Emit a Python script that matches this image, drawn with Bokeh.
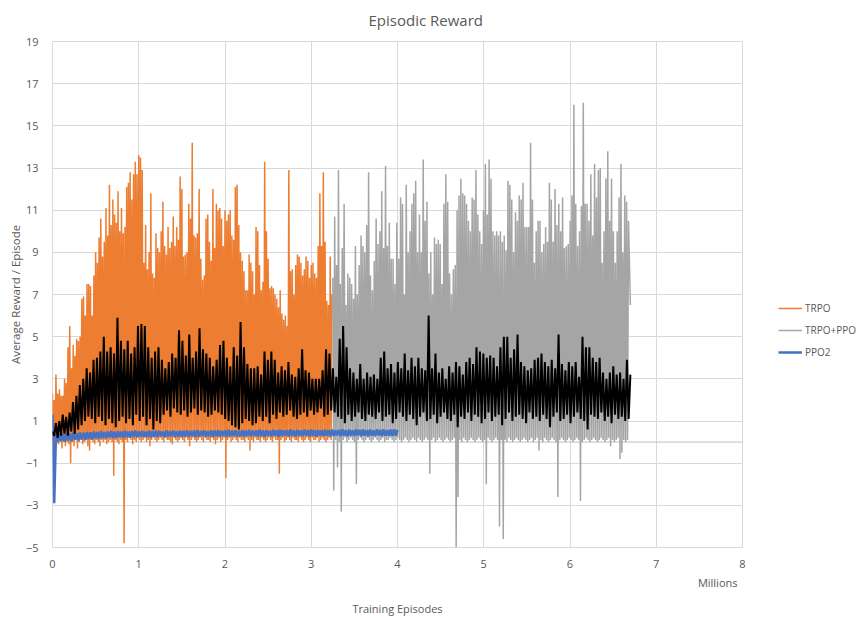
from bokeh.plotting import figure
from bokeh.models import FixedTicker, Legend, LegendItem, Span, Range1d, Title, Spacer
from bokeh.layouts import row
from bokeh.embed import file_html
from bokeh.resources import INLINE

# ---------------- data (millions of training episodes / average reward) ----------------
x_ticks = [0, 1, 2, 3, 4, 5, 6, 7, 8]
y_ticks = [-5, -3, -1, 1, 3, 5, 7, 9, 11, 13, 15, 17, 19]
x_tick_labels = ["0", "1", "2", "3", "4", "5", "6", "7", "8"]

trpo_start, trpo_end = 0.0, 3.24
trpo_peaks = [2.3, 2.0, 3.2, 2.3, 2.5, 2.2, 2.2, 3.0, 2.8, 4.5,
              5.5, 3.5, 4.6, 4.1, 4.9, 4.8, 5.0, 6.8, 6.9, 6.0,
              7.5, 7.5, 7.4, 6.0, 7.9, 9.0, 8.5, 9.7, 10.6, 8.8,
              9.5, 11.1, 9.8, 12.2, 10.3, 11.5, 10.8, 10.4, 11.9, 10.0,
              11.1, 9.9, 10.2, 12.1, 12.3, 12.8, 11.5, 12.7, 13.3, 12.7,
              13.6, 13.5, 12.9, 8.5, 10.3, 8.2, 9.0, 11.8, 8.0, 7.8,
              9.9, 9.2, 9.0, 10.0, 11.4, 9.3, 8.9, 10.2, 9.2, 9.5,
              10.7, 9.3, 10.2, 9.6, 12.6, 12.0, 8.8, 8.9, 9.0, 11.3,
              10.6, 14.2, 9.8, 9.7, 9.9, 12.0, 8.7, 7.7, 7.9, 10.6,
              10.8, 9.5, 8.6, 12.0, 9.2, 11.3, 11.0, 11.1, 10.6, 9.3,
              11.0, 10.5, 10.8, 11.0, 9.8, 9.6, 12.1, 12.2, 10.3, 9.0,
              8.6, 8.1, 7.2, 7.2, 8.9, 8.5, 8.1, 7.0, 10.2, 10.0,
              8.4, 7.2, 7.6, 13.3, 10.0, 8.7, 7.3, 7.4, 7.3, 7.0,
              6.8, 6.4, 7.2, 6.1, 5.8, 6.0, 5.5, 12.9, 8.1, 8.2,
              7.0, 8.4, 8.9, 8.8, 8.5, 7.9, 8.2, 8.8, 8.6, 7.8,
              8.4, 8.5, 8.0, 7.8, 9.3, 11.8, 9.3, 12.8, 9.5, 6.7,
              6.5, 8.8, 7.0]
trpo_troughs = [0.0, -0.2, 0.1, -0.1, 0.0, -0.3, 0.1, -0.2, 0.0, -0.1,
                -1.0,
                0.0, -0.2, 0.1, -0.3, 0.0, 0.1, -0.1, 0.0, 0.1, -0.2,
                -0.4,
                0.1, 0.0, -0.1, 0.1, 0.0, -0.2, 0.1, 0.0, 0.1, -0.1, 0.0, 0.1, 0.0,
                -1.6,
                0.1, 0.0, -0.1, 0.1, 0.0,
                -4.8,
                0.1, 0.0, 0.2, 0.1, -0.1, 0.1, 0.0, 0.2, 0.1, 0.0,
                0.1, 0.2, 0.0, 0.1, -0.2, 0.1, 0.2, 0.1, 0.0, 0.1,
                0.2, 0.1, 0.0, 0.2, 0.1, 0.1, 0.0, -0.1, 0.2, 0.1,
                0.0, 0.1, 0.2, 0.1, 0.0, 0.2, 0.1, -0.2, 0.1, 0.2,
                0.1, 0.0, 0.1, 0.2, 0.1, 0.0, 0.2, 0.1, 0.1, 0.0,
                0.2, 0.1, -0.1, 0.1, 0.2, 0.0, 0.1, 0.2,
                -1.7,
                0.1, 0.2, 0.0, 0.1, 0.2, 0.1, 0.0, 0.2, 0.1, 0.1, 0.0, 0.2, 0.1,
                -0.4,
                0.1, 0.0, 0.2, 0.1, 0.1, 0.0, 0.2, 0.1, 0.0, 0.1, 0.2, 0.1, 0.0, 0.2, 0.1, 0.1,
                -1.5,
                0.1, 0.2, 0.0, 0.1, 0.2, 0.1, 0.0, 0.2, 0.1, 0.1,
                0.0, 0.2, 0.1, 0.0, 0.1, 0.2, 0.1, 0.0, 0.2, 0.1,
                0.1, 0.2, 0.0, 0.1, 0.2, 0.1, 0.0, 0.1, 0.2, 0.1]

hybrid_start, hybrid_end = 3.25, 6.70
hybrid_peaks = [7.8, 10.7, 8.4, 12.9, 7.5, 9.2, 11.3, 6.5, 8.0, 7.8,
                7.5, 6.8, 9.3, 7.0, 8.4, 9.8, 9.3, 9.0, 10.3, 12.8,
                7.9, 7.2, 8.6, 10.6, 9.4, 10.0, 11.9, 9.2, 13.1, 9.3,
                10.4, 8.7, 8.7, 7.5, 10.4, 8.7, 11.6, 11.3, 7.0, 12.2,
                9.0, 10.0, 11.3, 11.8, 12.4, 9.0, 10.8, 9.0, 13.4, 10.5,
                11.4, 8.0, 9.0, 7.0, 9.7, 9.4, 9.6, 9.4, 7.5, 11.3,
                12.7, 11.4, 8.0, 7.0, 8.2, 8.4, 11.0, 11.7, 12.5, 11.8,
                11.7, 11.3, 10.5, 10.0, 11.6, 11.5, 12.9, 10.8, 10.0, 9.4,
                11.0, 13.2, 10.8, 13.4, 12.5, 10.0, 9.8, 10.0, 9.8, 10.0,
                9.5, 9.8, 9.1, 12.4, 12.2, 11.5, 9.0, 10.9, 10.5, 11.7,
                11.5, 12.3, 10.2, 10.2, 10.2, 14.2, 11.5, 8.5, 10.0, 10.5,
                10.5, 9.0, 9.4, 10.2, 9.5, 12.3, 11.5, 9.5, 12.0, 10.3,
                11.3, 10.0, 11.6, 9.2, 9.3, 9.4, 10.5, 11.7, 16.0, 11.3,
                9.3, 10.0, 11.2, 16.1, 11.3, 11.3, 10.5, 12.7, 9.8, 13.2,
                11.6, 12.9, 13.0, 8.5, 10.0, 12.5, 13.8, 10.5, 12.5, 10.0,
                8.5, 10.0, 11.6, 13.2, 9.0, 11.7, 11.4, 10.5, 6.5]
hybrid_troughs = [-2.3, 0.1, -1.2, 0.0, -3.3, 0.1, 0.2, 0.0, 0.1, 0.2,
                  0.1, 0.0, -2.0, 0.1, 0.2, 0.1, 0.0, 0.1, 0.2, 0.1,
                  0.0, 0.1, 0.2, 0.1, 0.0, 0.1, 0.2, 0.0, 0.1, 0.1,
                  0.2, 0.1, 0.0, 0.1, 0.2, 0.1, 0.0, 0.1, 0.2, 0.1,
                  0.0, 0.1, 0.2, 0.1, 0.0, 0.2, 0.1, 0.0, 0.1, 0.2,
                  0.1, -1.5, 0.1, 0.2, 0.0, 0.1, 0.2, 0.1, 0.0, 0.1,
                  0.2, 0.1, 0.0, 0.1, 0.2, -5.0, -2.6, 0.1, 0.0, 0.2,
                  0.1, 0.0, 0.1, 0.2, 0.1, 0.0, 0.1, 0.2, 0.1, 0.0,
                  0.1, -2.0, 0.2, 0.1, 0.0, 0.1, 0.2, 0.1, -4.0, 0.1,
                  -4.6, 0.1, 0.0, 0.2, 0.1, 0.0, 0.1, 0.2, 0.1, 0.0,
                  0.1, 0.2, 0.1, 0.0, 0.1, 0.2, 0.0, 0.1, 0.2, -0.4,
                  0.1, 0.0, 0.2, 0.1, 0.0, 0.1, 0.2, 0.1, 0.0, -2.6,
                  0.1, 0.2, 0.1, 0.0, 0.1, 0.2, 0.1, 0.0, 0.1, 0.2,
                  0.1, -2.8, 0.0, 0.1, 0.2, 0.1, 0.0, 0.1, 0.2, 0.1,
                  0.0, 0.1, 0.2, 0.1, 0.0, 0.1, 0.2, -0.2, 0.1, 0.0,
                  0.1, 0.2, -0.8, -0.5, 0.1, 0.0, 0.1]

ppo2_start, ppo2_end = 0.0, 4.0
ppo2_peaks = [1.3,
              0.35, 0.40, 0.38, 0.42, 0.40, 0.45, 0.42, 0.46, 0.44, 0.48,
              0.46, 0.50, 0.47, 0.52, 0.48, 0.50, 0.53, 0.49, 0.52, 0.50,
              0.54, 0.50, 0.52, 0.55, 0.51, 0.53, 0.50, 0.54, 0.52, 0.55,
              0.53, 0.50, 0.56, 0.52, 0.54, 0.51, 0.55, 0.53, 0.56, 0.52,
              0.55, 0.57, 0.53, 0.55, 0.52, 0.56, 0.54, 0.57, 0.53, 0.55,
              0.58, 0.54, 0.56, 0.53, 0.57, 0.55, 0.58, 0.54, 0.56, 0.59,
              0.55, 0.57, 0.54, 0.58, 0.56, 0.59, 0.55, 0.57, 0.60, 0.56,
              0.58, 0.55, 0.59, 0.57, 0.60, 0.56, 0.58, 0.55, 0.59, 0.57,
              0.60, 0.56, 0.58, 0.61, 0.57, 0.59, 0.56, 0.60, 0.58, 0.61,
              0.57, 0.59, 0.56, 0.60, 0.58, 0.61, 0.57, 0.59, 0.60, 0.58]
ppo2_troughs = [-2.9,
                0.00, 0.05, 0.02, 0.08, 0.05, 0.10, 0.08, 0.12, 0.10,
                0.15, 0.12, 0.18, 0.15, 0.20, 0.17, 0.22, 0.18, 0.20, 0.23,
                0.20, 0.24, 0.21, 0.25, 0.22, 0.26, 0.23, 0.25, 0.22, 0.26,
                0.24, 0.27, 0.23, 0.25, 0.28, 0.24, 0.26, 0.23, 0.27, 0.25,
                0.28, 0.24, 0.26, 0.29, 0.25, 0.27, 0.24, 0.28, 0.26, 0.29,
                0.25, 0.27, 0.30, 0.26, 0.28, 0.25, 0.29, 0.27, 0.30, 0.26,
                0.28, 0.25, 0.29, 0.27, 0.30, 0.26, 0.28, 0.31, 0.27, 0.29,
                0.26, 0.30, 0.28, 0.31, 0.27, 0.29, 0.26, 0.30, 0.28, 0.31,
                0.27, 0.29, 0.32, 0.28, 0.30, 0.27, 0.31, 0.29, 0.32, 0.28,
                0.30, 0.27, 0.31, 0.29, 0.32, 0.28, 0.30, 0.31, 0.29, 0.30]

avg_start, avg_end = 0.0, 6.70
avg_peaks = [0.5, 0.9, 1.0, 1.3, 1.2, 1.4, 1.9, 2.2, 2.7, 3.0,
             3.5, 3.3, 3.9, 4.0, 4.3, 5.0, 4.3, 4.5, 4.2, 5.9,
             4.8, 4.4, 4.8, 4.2, 4.5, 5.5, 5.6, 5.5, 4.5, 4.0,
             4.3, 4.5, 3.9, 3.5, 3.8, 4.2, 4.0, 5.3, 4.8, 4.1,
             5.1, 4.0, 4.3, 5.4, 4.4, 4.2, 4.0, 3.6, 3.9, 4.6,
             4.8, 4.0, 3.6, 4.5, 4.1, 5.7, 4.5, 3.7, 3.5, 3.5,
             3.6, 3.2, 4.3, 3.9, 4.3, 3.9, 3.3, 3.6, 3.4, 3.8,
             3.2, 3.1, 3.5, 4.4, 3.4, 3.3, 3.0, 3.0, 3.0, 3.4,
             4.4, 4.2, 3.5, 3.1,
             4.9, 5.5, 4.5, 3.5, 3.3, 3.0, 3.7, 3.0, 3.3, 3.1,
             3.2, 3.0, 4.0, 4.3, 3.5, 3.7, 3.3, 3.8, 3.5, 4.2,
             3.4, 4.0, 3.6, 4.0, 3.5, 3.4, 6.0, 3.5, 4.2, 3.3,
             3.5, 3.0, 3.6, 3.3, 3.8, 3.6, 3.2, 3.8, 4.0, 3.7,
             4.5, 4.3, 4.2, 4.0, 4.1, 4.0, 3.6, 4.5, 5.0, 5.0,
             4.0, 4.4, 5.1, 3.8, 3.6, 3.4, 3.5, 3.9, 4.0, 4.2,
             3.8, 3.6, 3.9, 3.5, 5.1, 3.7, 3.4, 3.8, 3.6, 3.8,
             3.1, 5.0, 4.5, 4.5, 4.0, 3.8, 4.0, 3.3, 3.0, 3.3,
             3.6, 3.2, 3.3, 3.0, 3.9, 3.2]
avg_troughs = [0.3, 0.2, 0.3, 0.4, 0.3, 0.5, 0.4, 0.6, 0.8,
               1.0, 1.2, 1.1, 0.9, 1.2, 1.0, 0.8, 1.1, 0.9, 0.7, 1.0, 1.2,
               0.9, 1.1, 0.8, 1.3, 1.0, 1.2, 0.8, 1.1, 0.6, 1.0,
               0.9, 1.3, 1.5, 1.2, 1.6, 1.4, 1.3, 1.5, 1.2, 1.4,
               1.6, 1.3, 1.5, 1.4, 1.2, 1.3, 1.5, 1.4, 1.3, 1.1,
               1.0, 0.8, 0.7, 0.6, 0.9, 1.1, 1.0, 0.8, 0.9, 1.2,
               1.0, 1.2, 0.9, 1.3, 1.1, 1.4, 1.2, 1.3, 1.5, 1.2,
               1.1, 1.3, 1.4, 1.2, 1.5, 1.3, 1.4, 1.6, 1.2, 1.3, 1.5, 1.4, 1.2,
               1.1, 0.9, 1.3, 1.0, 1.2, 1.4, 1.1, 1.0, 1.3, 1.2,
               1.1, 1.4, 1.0, 1.2, 1.3, 0.9, 1.1, 1.4, 1.2, 1.0,
               1.3, 1.1, 0.8, 1.2, 1.4, 1.0, 1.1, 1.3, 0.9, 1.2,
               1.4, 1.1, 1.0, 1.3, 0.7, 1.2, 1.1, 1.4, 1.0, 1.3,
               1.2, 0.9, 1.1, 1.4, 1.0, 1.2, 1.3, 0.8, 1.1, 1.4,
               1.0, 1.2, 1.3, 1.1, 0.9, 1.4, 1.1, 1.2, 1.0, 1.3,
               1.1, 0.7, 1.2, 1.4, 1.0, 1.1, 1.3, 0.9, 1.2, 1.4,
               1.1, 1.0, 0.6, 1.3, 1.2, 1.1, 1.4, 1.0, 1.2, 0.9,
               1.3, 1.1, 1.2, 1.0, 1.1]

series_names = ["TRPO", "TRPO+PPO", "PPO2"]
series_colors = ["#ED7D31", "#A5A5A5", "#4472C4"]
avg_color = "#000000"


def zigzag(start, end, peaks, troughs):
    """Alternate the read peaks and troughs along the episode axis."""
    n = len(peaks)
    step = (end - start) / (n - 1)
    xs, ys = [], []
    for i in range(n):
        xs.append(start + i * step)
        ys.append(peaks[i])
        if i < len(troughs) and i < n - 1:
            xs.append(start + (i + 0.5) * step)
            ys.append(troughs[i])
    return xs, ys


TEXT = "#595959"
FONT = "Open Sans"

p = figure(frame_width=690, frame_height=506,
           x_range=Range1d(0, 8), y_range=Range1d(-5, 19),
           output_backend="svg", toolbar_location=None,
           min_border_left=40, min_border_right=108,
           min_border_top=34, min_border_bottom=20,
           background_fill_color="white", border_fill_color="white")

p.outline_line_color = "#D9D9D9"

# title
p.title.text = "Episodic Reward"
p.title.align = "left"
p.title.offset = 316
p.title.vertical_align = "top"
p.title.text_font = FONT
p.title.text_font_size = "15px"
p.title.text_font_style = "normal"
p.title.text_color = TEXT
p.title.standoff = 19

# axes
for ax in (p.xaxis[0], p.yaxis[0]):
    ax.axis_line_color = None
    ax.major_tick_line_color = None
    ax.minor_tick_line_color = None
    ax.major_label_text_font = FONT
    ax.major_label_text_font_size = "11px"
    ax.major_label_text_color = TEXT
p.xaxis.major_label_standoff = 6
p.yaxis.major_label_standoff = 8
p.xaxis.ticker = FixedTicker(ticks=x_ticks)
p.xaxis.major_label_overrides = {t: l for t, l in zip(x_ticks, x_tick_labels)}
p.yaxis.ticker = FixedTicker(ticks=y_ticks)
p.yaxis.axis_label = "Average Reward / Episode"
p.yaxis.axis_label_text_font = FONT
p.yaxis.axis_label_text_font_size = "11.5px"
p.yaxis.axis_label_text_font_style = "normal"
p.yaxis.axis_label_text_color = TEXT
p.yaxis.axis_label_standoff = 0

p.xgrid.ticker = FixedTicker(ticks=x_ticks)
p.ygrid.ticker = FixedTicker(ticks=y_ticks)
p.xgrid.grid_line_color = "#D9D9D9"
p.ygrid.grid_line_color = "#D9D9D9"

# display-unit note and axis title below the x axis
p.add_layout(Title(text="Millions", align="right", offset=5, standoff=5,
                   text_font=FONT, text_font_size="11px",
                   text_font_style="normal", text_color=TEXT), "below")
p.add_layout(Title(text="Training Episodes", align="center", standoff=13,
                   text_font=FONT, text_font_size="11px",
                   text_font_style="normal", text_color=TEXT), "below")

# horizontal axis line through zero
p.add_layout(Span(location=0, dimension="width", line_color="#BFBFBF",
                  line_width=1, level="underlay"))

# series
tx, ty = zigzag(trpo_start, trpo_end, trpo_peaks, trpo_troughs)
r_trpo = p.line(tx, ty, line_color=series_colors[0], line_width=1.5)
hx, hy = zigzag(hybrid_start, hybrid_end, hybrid_peaks, hybrid_troughs)
r_hyb = p.line(hx, hy, line_color=series_colors[1], line_width=1.5)
bx, by = zigzag(ppo2_start, ppo2_end, ppo2_peaks, ppo2_troughs)
r_ppo2 = p.line(bx, by, line_color=series_colors[2], line_width=2.5)
ax_, ay_ = zigzag(avg_start, avg_end, avg_peaks, avg_troughs)
p.line(ax_, ay_, line_color=avg_color, line_width=2.0)

legend = Legend(items=[LegendItem(label=series_names[0], renderers=[r_trpo]),
                       LegendItem(label=series_names[1], renderers=[r_hyb]),
                       LegendItem(label=series_names[2], renderers=[r_ppo2])],
                location=(36, 185), orientation="vertical",
                glyph_width=24, glyph_height=20, label_height=20, spacing=2,
                padding=0, margin=0, label_standoff=3,
                border_line_color=None, background_fill_alpha=0,
                label_text_font=FONT, label_text_font_size="10px",
                label_text_color=TEXT)
p.add_layout(legend, "right")

layout = row(Spacer(width=4), p)
open("out.html", "w").write(file_html(layout, INLINE))
